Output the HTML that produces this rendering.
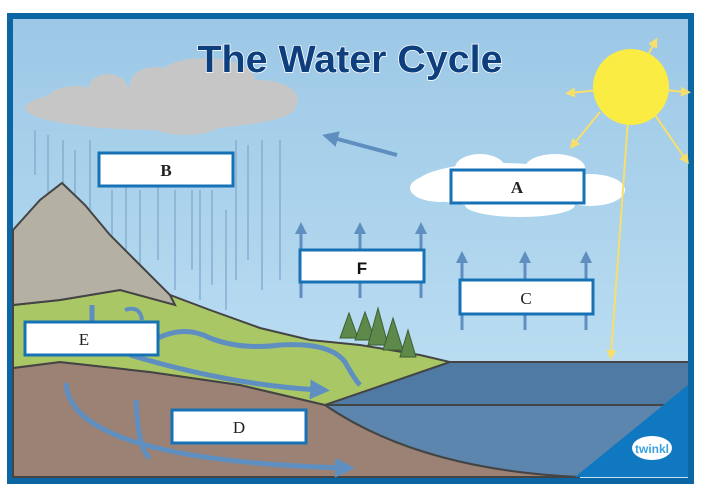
<!DOCTYPE html>
<html><head><meta charset="utf-8"><style>
html,body{margin:0;padding:0;background:#fff;width:701px;height:496px;overflow:hidden}
svg{display:block}
.lab{font-family:"Liberation Serif",serif;font-size:17px;font-weight:bold;fill:#222;text-anchor:middle}
</style></head><body>
<svg width="701" height="496" viewBox="0 0 701 496" xmlns="http://www.w3.org/2000/svg">
<defs>
<linearGradient id="sky" x1="0" y1="0" x2="0" y2="1"><stop offset="0" stop-color="#9cc8e6"/><stop offset="1" stop-color="#c3e3f5"/></linearGradient>
<marker id="ah" markerWidth="4" markerHeight="4" refX="2" refY="2" orient="auto"><path d="M0,0 L4,2 L0,4 Z" fill="#5f8fc0"/></marker>
<marker id="ay" markerWidth="5" markerHeight="5" refX="2.5" refY="2.5" orient="auto"><path d="M0,0 L5,2.5 L0,5 Z" fill="#f8df6a"/></marker>
</defs>
<rect x="7" y="13" width="687" height="471" fill="#0b66a3"/>
<rect x="13" y="19" width="675" height="459" fill="url(#sky)"/>
<!-- rain -->
<g stroke="#86aed0" stroke-width="1.5">
<line x1="35" y1="130" x2="35" y2="175"/><line x1="48" y1="135" x2="48" y2="230"/><line x1="63" y1="140" x2="63" y2="235"/><line x1="75" y1="150" x2="75" y2="240"/><line x1="90" y1="140" x2="90" y2="250"/><line x1="112" y1="190" x2="112" y2="245"/><line x1="126" y1="185" x2="126" y2="270"/><line x1="140" y1="190" x2="140" y2="280"/><line x1="158" y1="185" x2="158" y2="260"/><line x1="175" y1="190" x2="175" y2="290"/><line x1="192" y1="190" x2="192" y2="270"/><line x1="200" y1="190" x2="200" y2="300"/><line x1="212" y1="190" x2="212" y2="285"/><line x1="226" y1="210" x2="226" y2="310"/><line x1="236" y1="140" x2="236" y2="280"/><line x1="248" y1="145" x2="248" y2="260"/><line x1="262" y1="140" x2="262" y2="290"/><line x1="280" y1="140" x2="280" y2="280"/>
</g>
<!-- grey cloud -->
<g fill="#c6c6c6">
<ellipse cx="160" cy="108" rx="135" ry="22"/><ellipse cx="75" cy="100" rx="28" ry="14"/><ellipse cx="108" cy="90" rx="20" ry="16"/><ellipse cx="155" cy="85" rx="25" ry="18"/><ellipse cx="205" cy="80" rx="50" ry="22"/><ellipse cx="260" cy="100" rx="38" ry="20"/><ellipse cx="185" cy="120" rx="40" ry="15"/>
</g>
<!-- white cloud -->
<g fill="#fff">
<ellipse cx="500" cy="185" rx="85" ry="22"/><ellipse cx="440" cy="188" rx="30" ry="14"/><ellipse cx="480" cy="168" rx="25" ry="14"/><ellipse cx="555" cy="168" rx="30" ry="14"/><ellipse cx="590" cy="190" rx="35" ry="16"/><ellipse cx="520" cy="205" rx="55" ry="12"/>
</g>
<!-- sun -->
<g stroke="#f8df6a" stroke-width="2" marker-end="url(#ay)">
<line x1="630" y1="87" x2="655" y2="42"/><line x1="630" y1="87" x2="570" y2="93"/><line x1="630" y1="87" x2="686" y2="92"/><line x1="600" y1="112" x2="573" y2="145"/><line x1="655" y1="115" x2="686" y2="160"/><line x1="628" y1="120" x2="611" y2="355"/>
</g>
<circle cx="631" cy="87" r="38" fill="#fbec44"/>
<!-- arrow sky -->
<line x1="397" y1="155" x2="330" y2="137" stroke="#5f8fc0" stroke-width="4" marker-end="url(#ah)"/>
<!-- evaporation arrows -->
<g stroke="#5f8fc0" stroke-width="3" marker-end="url(#ah)">
<line x1="301" y1="298" x2="301" y2="228"/><line x1="360" y1="298" x2="360" y2="228"/><line x1="421" y1="298" x2="421" y2="228"/>
<line x1="462" y1="330" x2="462" y2="257"/><line x1="525" y1="330" x2="525" y2="257"/><line x1="586" y1="330" x2="586" y2="257"/>
</g>
<!-- soil -->
<path d="M13,368 L60,362 L150,372 L240,385 L325,405 Q420,470 580,477 L13,477 Z" fill="#9c8274" stroke="#444" stroke-width="2"/>
<!-- lake -->
<path d="M325,405 L450,362 L688,362 L688,477 L580,477 Q420,470 325,405 Z" fill="#5c86ad"/>
<path d="M325,405 L450,362 L688,362 L688,405 Z" fill="#4e7aa4"/>
<line x1="450" y1="362" x2="688" y2="362" stroke="#444" stroke-width="2"/>
<line x1="325" y1="405" x2="688" y2="405" stroke="#444" stroke-width="2"/>
<path d="M325,405 Q420,470 580,477" fill="none" stroke="#444" stroke-width="2"/>
<!-- grass -->
<path d="M13,305 L60,300 L120,290 L170,295 L210,310 L260,328 L310,340 L360,345 L420,355 L450,362 L325,405 L240,385 L150,372 L60,362 L13,368 Z" fill="#a9c765" stroke="#444" stroke-width="2"/>
<!-- mountain -->
<path d="M13,230 L40,200 L62,183 L85,205 L110,235 L140,265 L170,295 L175,305 L120,290 L60,300 L13,305 Z" fill="#b5b0a4" stroke="#444" stroke-width="2"/>
<!-- trees -->
<g fill="#5d8a4a" stroke="#3e5e33" stroke-width="1">
<path d="M340,338 L349,313 L358,338Z"/><path d="M355,340 L365,312 L375,340Z"/><path d="M368,345 L378,308 L388,345Z"/><path d="M383,350 L393,318 L403,350Z"/><path d="M400,357 L408,330 L416,357Z"/>
</g>
<!-- river -->
<path d="M158,338 Q185,325 210,338 Q240,350 280,345 Q330,342 345,362 Q355,380 360,385" fill="none" stroke="#5f8fc0" stroke-width="5"/>
<path d="M125,310 Q140,305 142,320" fill="none" stroke="#5f8fc0" stroke-width="4"/>
<line x1="92" y1="305" x2="92" y2="325" stroke="#5f8fc0" stroke-width="5"/>
<!-- ground flow arrows -->
<g fill="none" stroke="#5f8fc0" stroke-width="5">
<path d="M130,355 Q230,385 320,390" marker-end="url(#ah)"/>
<path d="M66,383 Q70,460 345,468" marker-end="url(#ah)"/>
<path d="M136,400 Q138,450 150,458"/>
</g>
<!-- twinkl triangle -->
<path d="M688,385 L688,477 L575,477 Z" fill="#0f78c0"/>
<ellipse cx="652" cy="448" rx="20" ry="12" fill="#fff"/>
<text x="652" y="453" font-family="Liberation Sans,sans-serif" font-size="12" font-weight="bold" fill="#3aa3e0" text-anchor="middle">twinkl</text>
<!-- title -->
<text x="350" y="72" font-family="Liberation Sans,sans-serif" font-size="38" font-weight="bold" fill="#0d3e7e" stroke="#fff" stroke-width="1.5" paint-order="stroke" text-anchor="middle" textLength="305" lengthAdjust="spacingAndGlyphs">The Water Cycle</text>
<!-- boxes -->
<g fill="#fff" stroke="#1672b4" stroke-width="3">
<rect x="99" y="153" width="134" height="33"/>
<rect x="451" y="170" width="133" height="33"/>
<rect x="300" y="250" width="124" height="32"/>
<rect x="460" y="280" width="133" height="34"/>
<rect x="25" y="322" width="133" height="33"/>
<rect x="172" y="410" width="134" height="33"/>
</g>
<text class="lab" x="166" y="176">B</text>
<text class="lab" x="517" y="193">A</text>
<text x="362" y="274" font-family="Liberation Sans,sans-serif" font-size="17" font-weight="bold" fill="#111" text-anchor="middle">F</text>
<text class="lab" x="526" y="304" style="font-weight:normal">C</text>
<text class="lab" x="84" y="345" style="font-weight:normal">E</text>
<text class="lab" x="239" y="433" style="font-weight:normal">D</text>
</svg>
</body></html>
